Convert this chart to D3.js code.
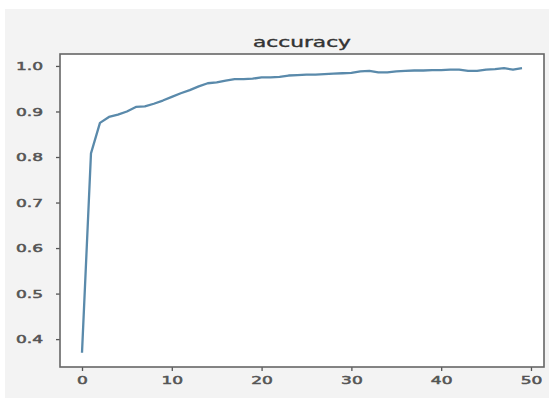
<!DOCTYPE html>
<html>
<head>
<meta charset="utf-8">
<script src="https://cdn.jsdelivr.net/npm/d3@7"></script>
<style>
  body { margin: 0; background: #fff; }
  text { font-family: "DejaVu Sans", sans-serif; }
</style>
</head>
<body>
<script>
var width = 556, height = 398;
var margin = { top: 54, right: 12, bottom: 31, left: 60 };
var stretch = 1.55; // the picture is stretched sideways, text too

// accuracy per epoch
var epochs = d3.range(50);
var accuracy = [
  0.370, 0.808, 0.875, 0.888, 0.893, 0.900, 0.910, 0.911, 0.917, 0.924,
  0.932, 0.940, 0.947, 0.955, 0.962, 0.964, 0.968, 0.971, 0.971, 0.972,
  0.975, 0.975, 0.976, 0.979, 0.980, 0.981, 0.981, 0.982, 0.983, 0.984,
  0.985, 0.988, 0.989, 0.986, 0.986, 0.988, 0.989, 0.990, 0.990, 0.991,
  0.991, 0.992, 0.992, 0.989, 0.989, 0.992, 0.993, 0.995, 0.992, 0.995
];
var xTicks = [0, 10, 20, 30, 40, 50];
var yTicks = [0.4, 0.5, 0.6, 0.7, 0.8, 0.9, 1.0];

const svg = d3.select("body")
    .append("svg")
    .attr("width", width)
    .attr("height", height);

// grey figure background
svg.append("rect")
    .attr("x", 5).attr("y", 9)
    .attr("width", 544).attr("height", 389)
    .attr("fill", "#f3f3f3");

// matplotlib-style 5% margins
var xPad = (d3.max(epochs) - d3.min(epochs)) * 0.05;
var yExt = d3.extent(accuracy), yPad = (yExt[1] - yExt[0]) * 0.05;

x = d3.scaleLinear([d3.min(epochs) - xPad, d3.max(epochs) + xPad], [margin.left, width - margin.right]);
y = d3.scaleLinear([yExt[0] - yPad, yExt[1] + yPad], [height - margin.bottom, margin.top]);

svg.append("rect")
    .attr("x", margin.left).attr("y", margin.top)
    .attr("width", width - margin.left - margin.right)
    .attr("height", height - margin.top - margin.bottom)
    .attr("fill", "#fff");

svg.append("path")
    .datum(accuracy)
    .attr("fill", "none")
    .attr("stroke", "#5a8aab")
    .attr("stroke-width", 2.3)
    .attr("stroke-linejoin", "round")
    .attr("d", d3.line().x((d, i) => x(epochs[i])).y(d => y(d)));

var xAxis = g => g
    .attr("transform", `translate(0, ${height - margin.bottom})`)
    .call(d3.axisBottom(x).tickValues(xTicks).tickSize(4).tickPadding(5).tickFormat(d3.format("d")));
var yAxis = g => g
    .attr("transform", `translate(${margin.left}, 0)`)
    .call(d3.axisLeft(y).tickValues(yTicks).tickSize(4).tickPadding(13).tickFormat(d3.format(".1f")));

svg.append("g").call(xAxis);
svg.append("g").call(yAxis);

svg.selectAll(".domain").remove();
svg.selectAll(".tick line").attr("stroke", "#555").attr("stroke-width", 1.3);
svg.selectAll(".tick text")
    .attr("fill", "#555")
    .attr("stroke", "#555")
    .attr("stroke-width", 0.5)
    .style("font-size", "11px")
    .style("font-family", "DejaVu Sans, sans-serif")
    .each(function () {
        var t = d3.select(this);
        t.attr("x", (+t.attr("x") || 0) / stretch)
         .attr("transform", `scale(${stretch},1)`);
    });

// frame
svg.append("rect")
    .attr("x", margin.left).attr("y", margin.top)
    .attr("width", width - margin.left - margin.right)
    .attr("height", height - margin.top - margin.bottom)
    .attr("fill", "none")
    .attr("stroke", "#666")
    .attr("stroke-width", 1.6);

svg.append("g")
    .attr("transform", `translate(${(margin.left + width - margin.right) / 2}, ${margin.top - 7})`)
    .append("text")
    .attr("transform", `scale(${stretch},1)`)
    .attr("text-anchor", "middle")
    .attr("fill", "#333")
    .attr("stroke", "#333")
    .attr("stroke-width", 0.4)
    .style("font-size", "14px")
    .text("accuracy");
</script>
</body>
</html>
